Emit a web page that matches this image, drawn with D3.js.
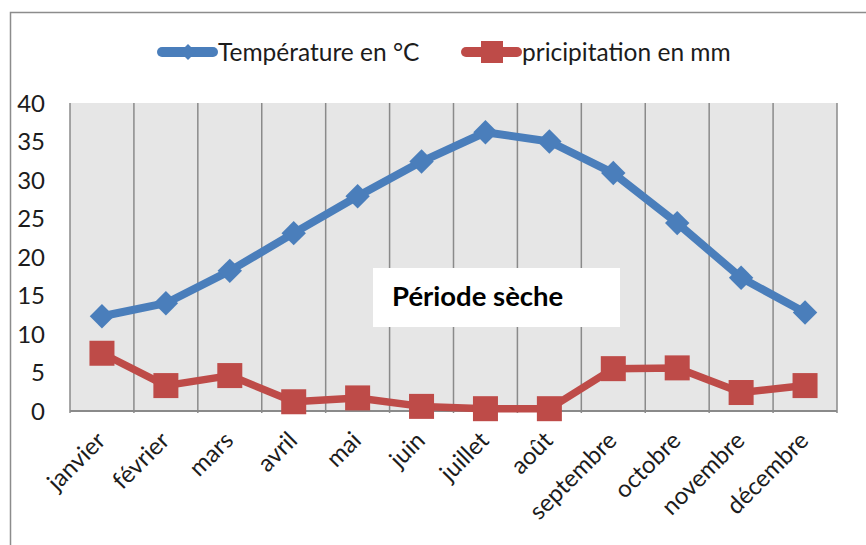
<!DOCTYPE html>
<html>
<head>
<meta charset="utf-8">
<script src="https://cdn.jsdelivr.net/npm/d3@7"></script>
<style>
  body { margin: 0; background: #fff; }
  svg text { font-family: Lato, "Open Sans", sans-serif; fill: #1c1c1c; }
</style>
</head>
<body>
<div class="container"></div>
<script>
const months = ["janvier", "février", "mars", "avril", "mai", "juin", "juillet", "août", "septembre", "octobre", "novembre", "décembre"];
const temperature = [12.3, 14.0, 18.2, 23.1, 27.9, 32.4, 36.2, 35.0, 30.9, 24.4, 17.3, 12.8];
const precipitation = [7.5, 3.3, 4.6, 1.2, 1.7, 0.6, 0.3, 0.3, 5.5, 5.6, 2.4, 3.3];
const yTicks = [0, 5, 10, 15, 20, 25, 30, 35, 40];
const seriesNames = ["Température en °C", "pricipitation en mm"];

const blue = "#4a7ebb", red = "#be4b48";

let svg = d3.select(".container")
  .append("svg")
  .attr("width", 866)
  .attr("height", 545);

// outer frame
svg.append("rect")
  .attr("x", 10.5).attr("y", 12.5)
  .attr("width", 900).attr("height", 600)
  .attr("fill", "#fff")
  .attr("stroke", "#8c8c8c")
  .attr("stroke-width", 1.5);

let x = d3.scaleBand()
  .domain(months)
  .range([70, 837]);

let y = d3.scaleLinear()
  .domain([0, 40])
  .range([411, 103]);

let cx = d => x(d) + x.bandwidth() / 2;

// plot background
svg.append("rect")
  .attr("x", x.range()[0]).attr("y", y(40))
  .attr("width", x.range()[1] - x.range()[0])
  .attr("height", y(0) - y(40))
  .attr("fill", "#e6e6e6");

// vertical gridlines at category boundaries
let bounds = months.map(m => x(m)).concat([x.range()[1]]);
svg.selectAll(".vgrid")
  .data(bounds)
  .enter().append("line")
  .attr("class", "vgrid")
  .attr("x1", d => d).attr("x2", d => d)
  .attr("y1", y(40)).attr("y2", y(0) + 2)
  .attr("stroke", "#8a8a8a")
  .attr("stroke-width", 1.5);

// bottom axis line
svg.append("line")
  .attr("x1", x.range()[0]).attr("x2", x.range()[1])
  .attr("y1", y(0)).attr("y2", y(0))
  .attr("stroke", "#8a8a8a")
  .attr("stroke-width", 2);

// y tick labels
svg.selectAll(".ytick")
  .data(yTicks)
  .enter().append("text")
  .attr("class", "ytick")
  .attr("x", 45)
  .attr("y", d => y(d))
  .attr("dy", "0.36em")
  .attr("text-anchor", "end")
  .style("font-size", "24px")
  .text(d => d);

// x labels rotated
svg.selectAll(".xlabel")
  .data(months)
  .enter().append("text")
  .attr("class", "xlabel")
  .attr("text-anchor", "end")
  .attr("transform", d => `translate(${cx(d) + 5},${y(0) + 31}) rotate(-45)`)
  .style("font-size", "24px")
  .text(d => d);

// "Période sèche" box
svg.append("rect")
  .attr("x", 373).attr("y", 268)
  .attr("width", 247).attr("height", 59)
  .attr("fill", "#fff");
svg.append("text")
  .attr("x", 392).attr("y", 306)
  .style("font-size", "27.5px")
  .style("font-weight", "bold")
  .style("fill", "#000")
  .text("Période sèche");

let line = d3.line()
  .x((d, i) => cx(months[i]))
  .y(d => y(d));

// temperature series
svg.append("path")
  .datum(temperature)
  .attr("d", line)
  .attr("fill", "none")
  .attr("stroke", blue)
  .attr("stroke-width", 8)
  .attr("stroke-linejoin", "round")
  .attr("stroke-linecap", "round");

let diamond = d3.symbol().type(d3.symbolDiamond2).size(380);
svg.selectAll(".tmark")
  .data(temperature)
  .enter().append("path")
  .attr("class", "tmark")
  .attr("d", diamond)
  .attr("transform", (d, i) => `translate(${cx(months[i])},${y(d)})`)
  .attr("fill", blue);

// precipitation series
svg.append("path")
  .datum(precipitation)
  .attr("d", line)
  .attr("fill", "none")
  .attr("stroke", red)
  .attr("stroke-width", 7.5)
  .attr("stroke-linejoin", "round")
  .attr("stroke-linecap", "round");

svg.selectAll(".pmark")
  .data(precipitation)
  .enter().append("rect")
  .attr("class", "pmark")
  .attr("x", (d, i) => cx(months[i]) - 12.5)
  .attr("y", d => y(d) - 12.5)
  .attr("width", 25).attr("height", 25)
  .attr("fill", red);

// legend
let legend = svg.append("g").attr("id", "legend");
let legendX = [158, 462];
seriesNames.forEach((name, i) => {
  let g = legend.append("g").attr("transform", `translate(${legendX[i]},52)`);
  let col = i === 0 ? blue : red;
  g.append("line")
    .attr("x1", 4).attr("x2", 55)
    .attr("stroke", col)
    .attr("stroke-width", 10)
    .attr("stroke-linecap", "round");
  if (i === 0) {
    g.append("path")
      .attr("d", d3.symbol().type(d3.symbolDiamond2).size(160))
      .attr("transform", "translate(30,0)")
      .attr("fill", col);
  } else {
    g.append("rect")
      .attr("x", 19).attr("y", -11)
      .attr("width", 22).attr("height", 22)
      .attr("fill", col);
  }
  g.append("text")
    .attr("x", 60)
    .attr("dy", "0.36em")
    .style("font-size", "24.5px")
    .text(name);
});
</script>
</body>
</html>
